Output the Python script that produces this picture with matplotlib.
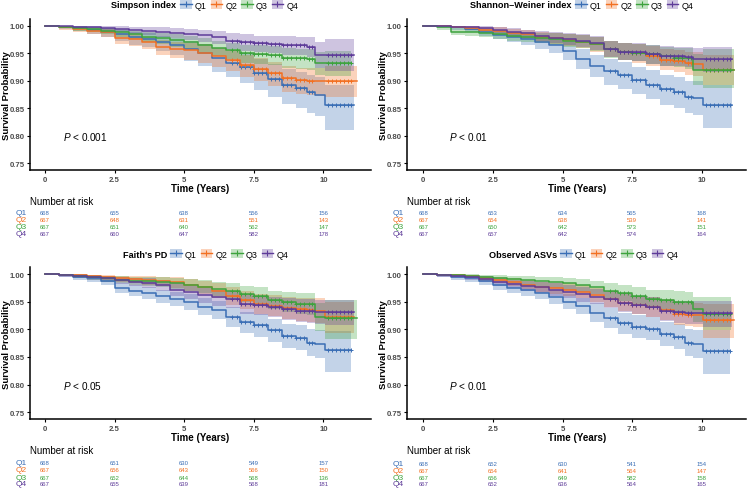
import matplotlib.pyplot as plt
from matplotlib.lines import Line2D
from matplotlib.patches import Patch
from matplotlib import transforms
import numpy as np

plt.rcParams['font.family'] = ['Liberation Sans', 'DejaVu Sans']
plt.rcParams['mathtext.fontset'] = 'custom'
plt.rcParams['mathtext.it'] = 'Liberation Sans:italic'
plt.rcParams['mathtext.rm'] = 'Liberation Sans'

groups = ['Q1', 'Q2', 'Q3', 'Q4']
colors = ['#3A6EB5', '#F27022', '#3DA33D', '#5E3C99']

# time points where the survival estimate is read off (years)
times = [0, 0.5, 1.0, 1.5, 2.0, 2.5, 3.0, 3.5, 4.0, 4.5, 5.0, 5.5, 6.0, 6.5,
         7.0, 7.5, 8.0, 8.5, 9.0, 9.4, 9.7, 10.05]
censor_times = [6.7, 6.9, 7.05, 7.2, 7.35, 7.5, 7.65, 7.8, 7.95, 8.1, 8.25,
                8.4, 8.55, 8.7, 8.85, 9.0, 9.15, 9.3, 9.5, 9.6, 10.15, 10.3,
                10.45, 10.6, 10.75, 10.9, 11.0]
risk_times = [0, 2.5, 5, 7.5, 10]

# ---- Simpson index ----
simpson_q1 = [1.000, .998, .996, .993, .989, .984, .979, .976, .971, .965, .957, .950, .941, .933, .925, .914, .903, .892, .886, .880, .874, .855]
simpson_q1_lo = [1.000, .994, .990, .985, .979, .972, .965, .961, .954, .946, .936, .927, .916, .906, .896, .883, .870, .857, .850, .842, .835, .810]
simpson_q1_hi = [1.000, 1.000, .999, .998, .995, .992, .988, .986, .982, .978, .972, .967, .960, .954, .948, .939, .930, .921, .916, .911, .906, .893]
simpson_q2 = [1.000, .997, .994, .991, .988, .978, .975, .970, .962, .958, .955, .951, .944, .938, .928, .922, .914, .904, .901, .900, .899, .899]
simpson_q2_lo = [1.000, .993, .988, .984, .980, .967, .963, .957, .947, .942, .938, .933, .925, .918, .907, .900, .891, .880, .876, .874, .872, .870]
simpson_q2_hi = [1.000, 1.000, .998, .996, .994, .986, .984, .980, .974, .971, .968, .966, .960, .955, .946, .941, .934, .926, .923, .923, .923, .927]
simpson_q3 = [1.000, .998, .996, .994, .991, .988, .984, .980, .977, .974, .970, .965, .960, .955, .950, .949, .947, .942, .941, .940, .933, .933]
simpson_q3_lo = [1.000, .995, .991, .988, .984, .980, .975, .970, .966, .962, .957, .951, .945, .939, .933, .931, .929, .923, .921, .919, .910, .908]
simpson_q3_hi = [1.000, 1.000, .999, .998, .996, .994, .991, .988, .986, .984, .981, .977, .973, .969, .965, .964, .963, .959, .958, .958, .953, .954]
simpson_q4 = [1.000, .999, .998, .997, .995, .994, .992, .991, .989, .987, .985, .983, .980, .973, .970, .968, .967, .965, .964, .962, .947, .946]
simpson_q4_lo = [1.000, .997, .995, .993, .990, .988, .985, .983, .980, .977, .974, .971, .967, .958, .954, .952, .950, .947, .946, .943, .923, .918]
simpson_q4_hi = [1.000, 1.000, 1.000, 1.000, .999, .999, .998, .998, .997, .996, .994, .993, .991, .986, .984, .982, .982, .981, .980, .979, .970, .975]
simpson_end = [11.1, 11.2, 11.0, 11.1]
simpson_risk = [[668, 655, 638, 556, 156],
                [667, 648, 631, 551, 143],
                [667, 651, 640, 562, 147],
                [667, 660, 647, 582, 178]]

# ---- Shannon-Weiner index ----
shannon_q1 = [1.000, .999, .997, .994, .989, .983, .980, .976, .971, .965, .954, .940, .926, .918, .911, .901, .893, .884, .879, .870, .869, .855]
shannon_q1_lo = [1.000, .996, .993, .988, .982, .975, .970, .965, .958, .951, .938, .922, .906, .893, .885, .875, .866, .856, .850, .841, .838, .814]
shannon_q1_hi = [1.000, 1.000, 1.000, .998, .995, .991, .989, .986, .983, .978, .970, .958, .946, .939, .934, .925, .919, .911, .907, .899, .899, .893]
shannon_q2 = [1.000, .999, .998, .996, .993, .991, .987, .984, .980, .977, .974, .971, .966, .958, .953, .950, .945, .938, .935, .932, .931, .920]
shannon_q2_lo = [1.000, .997, .995, .992, .988, .985, .980, .976, .971, .967, .963, .959, .953, .943, .937, .933, .927, .919, .915, .911, .909, .893]
shannon_q2_hi = [1.000, 1.000, 1.000, .999, .998, .997, .994, .992, .989, .987, .985, .983, .979, .973, .969, .967, .963, .957, .955, .953, .953, .947]
shannon_q3 = [1.000, .997, .989, .988, .987, .984, .981, .980, .978, .976, .973, .971, .967, .957, .953, .951, .948, .945, .942, .941, .920, .920]
shannon_q3_lo = [1.000, .993, .983, .982, .980, .976, .972, .971, .968, .965, .961, .959, .954, .942, .937, .935, .931, .927, .924, .922, .893, .887]
shannon_q3_hi = [1.000, 1.000, .995, .994, .993, .991, .989, .988, .987, .986, .984, .983, .980, .972, .969, .967, .965, .962, .960, .959, .948, .957]
shannon_q4 = [1.000, .999, .998, .997, .995, .992, .989, .986, .982, .978, .975, .973, .969, .958, .953, .952, .948, .945, .944, .943, .940, .939]
shannon_q4_lo = [1.000, .997, .995, .993, .990, .986, .982, .978, .973, .968, .964, .961, .956, .943, .937, .936, .931, .927, .926, .924, .920, .916]
shannon_q4_hi = [1.000, 1.000, 1.000, 1.000, .999, .997, .995, .993, .991, .988, .986, .985, .982, .973, .969, .968, .965, .963, .962, .962, .960, .962]
shannon_end = [11.1, 11.15, 11.15, 11.1]
shannon_risk = [[668, 653, 634, 565, 168],
                [667, 654, 638, 539, 141],
                [667, 650, 642, 573, 151],
                [667, 657, 642, 574, 164]]

# ---- Faith's PD ----
faith_q1 = [1.000, .998, .995, .992, .988, .975, .970, .966, .960, .955, .949, .941, .935, .922, .913, .907, .898, .888, .885, .876, .874, .862]
faith_q1_lo = [1.000, .995, .990, .986, .981, .966, .960, .955, .948, .942, .935, .926, .918, .904, .894, .887, .877, .866, .862, .852, .849, .822]
faith_q1_hi = [1.000, 1.000, .999, .997, .994, .984, .980, .977, .972, .968, .963, .957, .952, .940, .932, .927, .919, .910, .908, .900, .899, .897]
faith_q2 = [1.000, .999, .998, .996, .994, .992, .991, .989, .987, .985, .981, .976, .970, .960, .953, .946, .943, .939, .936, .935, .934, .922]
faith_q2_lo = [1.000, .997, .995, .992, .989, .986, .984, .981, .978, .975, .970, .964, .956, .944, .936, .928, .924, .919, .915, .913, .911, .893]
faith_q2_hi = [1.000, 1.000, 1.000, .999, .998, .997, .997, .996, .995, .994, .991, .988, .984, .976, .970, .964, .962, .959, .957, .957, .957, .950]
faith_q3 = [1.000, .999, .997, .995, .992, .990, .988, .987, .985, .983, .980, .977, .973, .969, .964, .960, .953, .950, .946, .945, .922, .920]
faith_q3_lo = [1.000, .997, .993, .990, .986, .983, .980, .979, .976, .973, .969, .965, .960, .955, .949, .944, .936, .932, .927, .925, .897, .882]
faith_q3_hi = [1.000, 1.000, 1.000, .999, .997, .996, .995, .995, .994, .993, .991, .989, .986, .983, .979, .976, .970, .968, .965, .965, .947, .953]
faith_q4 = [1.000, .998, .997, .995, .992, .989, .986, .984, .980, .972, .967, .962, .958, .955, .945, .944, .941, .937, .934, .933, .932, .931]
faith_q4_lo = [1.000, .995, .993, .990, .986, .982, .978, .975, .970, .960, .954, .948, .943, .939, .928, .926, .922, .917, .914, .912, .910, .908]
faith_q4_hi = [1.000, 1.000, 1.000, .999, .997, .995, .993, .992, .989, .983, .979, .975, .972, .970, .962, .961, .959, .956, .954, .954, .953, .953]
faith_end = [11.0, 11.1, 11.2, 11.1]
faith_risk = [[668, 651, 630, 549, 157],
              [667, 656, 643, 566, 150],
              [667, 652, 644, 568, 136],
              [667, 655, 639, 568, 181]]

# ---- Observed ASVs ----
asv_q1 = [1.000, .998, .995, .992, .988, .980, .975, .972, .966, .958, .950, .942, .930, .920, .911, .905, .901, .891, .887, .876, .874, .861]
asv_q1_lo = [1.000, .995, .990, .986, .981, .971, .965, .961, .954, .945, .936, .927, .913, .902, .892, .885, .880, .869, .864, .852, .849, .820]
asv_q1_hi = [1.000, 1.000, .999, .997, .994, .988, .984, .982, .977, .971, .964, .957, .947, .938, .930, .925, .922, .913, .910, .900, .899, .898]
asv_q2 = [1.000, .999, .998, .996, .993, .989, .985, .981, .977, .974, .972, .968, .962, .954, .948, .944, .940, .935, .927, .926, .925, .916]
asv_q2_lo = [1.000, .997, .995, .992, .988, .983, .978, .973, .968, .964, .961, .956, .949, .940, .933, .928, .923, .917, .908, .906, .904, .885]
asv_q2_hi = [1.000, 1.000, 1.000, .999, .997, .995, .992, .989, .986, .984, .983, .980, .975, .969, .964, .961, .958, .954, .947, .947, .947, .945]
asv_q3 = [1.000, .999, .998, .997, .995, .993, .991, .989, .987, .985, .983, .980, .976, .970, .966, .961, .955, .953, .950, .949, .936, .928]
asv_q3_lo = [1.000, .997, .995, .993, .990, .987, .984, .981, .978, .975, .972, .968, .963, .956, .951, .945, .938, .935, .931, .929, .913, .898]
asv_q3_hi = [1.000, 1.000, 1.000, 1.000, .999, .998, .997, .996, .995, .994, .993, .991, .988, .984, .981, .977, .972, .971, .969, .968, .958, .958]
asv_q4 = [1.000, .998, .996, .994, .991, .986, .982, .979, .976, .972, .968, .963, .959, .954, .947, .944, .940, .934, .931, .930, .930, .929]
asv_q4_lo = [1.000, .995, .992, .989, .985, .979, .974, .970, .966, .961, .956, .950, .945, .939, .931, .927, .922, .915, .911, .910, .909, .905]
asv_q4_hi = [1.000, 1.000, .999, .998, .997, .993, .990, .988, .986, .983, .980, .976, .973, .969, .963, .961, .958, .953, .951, .951, .951, .952]
asv_end = [11.0, 11.15, 11.05, 11.1]
asv_risk = [[668, 652, 630, 541, 154],
            [667, 654, 641, 564, 147],
            [667, 656, 649, 582, 158],
            [667, 652, 636, 564, 165]]

W, H = 750, 489
fig = plt.figure(figsize=(W / 100, H / 100), dpi=100)

def px_rect(left, right, top, bottom):
    return [left / W, 1 - bottom / H, (right - left) / W, (bottom - top) / H]

panels = [
    dict(title='Simpson index', pval='$P$ < 0.001',
         s=[simpson_q1, simpson_q2, simpson_q3, simpson_q4],
         lo=[simpson_q1_lo, simpson_q2_lo, simpson_q3_lo, simpson_q4_lo],
         hi=[simpson_q1_hi, simpson_q2_hi, simpson_q3_hi, simpson_q4_hi],
         end=simpson_end, risk=simpson_risk,
         rect=(30, 371, 19.8, 171), xlim=(-0.54, 11.71), px=0.65,
         title_r=176, leg_l=180, leg_y=6, risk_head=202,
         risk_rows=[214, 221, 228, 234.7], qx=16),
    dict(title='Shannon\u2013Weiner index', pval='$P$ < 0.01',
         s=[shannon_q1, shannon_q2, shannon_q3, shannon_q4],
         lo=[shannon_q1_lo, shannon_q2_lo, shannon_q3_lo, shannon_q4_lo],
         hi=[shannon_q1_hi, shannon_q2_hi, shannon_q3_hi, shannon_q4_hi],
         end=shannon_end, risk=shannon_risk,
         rect=(407.3, 746, 19.8, 171), xlim=(-0.575, 11.59), px=0.92,
         title_r=572, leg_l=575, leg_y=6, risk_head=202,
         risk_rows=[214, 221, 228, 234.7], qx=393),
    dict(title="Faith's PD", pval='$P$ < 0.05',
         s=[faith_q1, faith_q2, faith_q3, faith_q4],
         lo=[faith_q1_lo, faith_q2_lo, faith_q3_lo, faith_q4_lo],
         hi=[faith_q1_hi, faith_q2_hi, faith_q3_hi, faith_q4_hi],
         end=faith_end, risk=faith_risk,
         rect=(30, 371, 268.1, 420.2), xlim=(-0.54, 11.71), px=0.65,
         title_r=167, leg_l=170, leg_y=255, risk_head=450.7,
         risk_rows=[463.5, 471, 478.2, 485], qx=16),
    dict(title='Observed ASVs', pval='$P$ < 0.01',
         s=[asv_q1, asv_q2, asv_q3, asv_q4],
         lo=[asv_q1_lo, asv_q2_lo, asv_q3_lo, asv_q4_lo],
         hi=[asv_q1_hi, asv_q2_hi, asv_q3_hi, asv_q4_hi],
         end=asv_end, risk=asv_risk,
         rect=(407.3, 746, 268.1, 420.2), xlim=(-0.575, 11.59), px=0.92,
         title_r=557, leg_l=560, leg_y=255, risk_head=450.7,
         risk_rows=[464.3, 471.3, 478.3, 485], qx=393),
]

for p in panels:
    ax = fig.add_axes(px_rect(*p['rect']))
    for i in range(4):
        t = times + [p['end'][i]]
        s = p['s'][i] + [p['s'][i][-1]]
        lo = p['lo'][i] + [p['lo'][i][-1]]
        hi = p['hi'][i] + [p['hi'][i][-1]]
        ax.fill_between(t, lo, hi, step='post', color=colors[i], alpha=0.3, lw=0)
        ax.plot(t, s, drawstyle='steps-post', color=colors[i], lw=1.1)
        # censoring marks
        ct = [c for c in censor_times if c <= p['end'][i]]
        idx = np.searchsorted(times, ct, side='right') - 1
        cs = [p['s'][i][k] for k in idx]
        ax.plot(ct, cs, ls='none', marker='+', ms=3.5, mew=0.7, color=colors[i])

    ax.set_xlim(*p['xlim'])
    ax.set_ylim(0.7375, 1.0125)
    ax.set_xticks([0, 2.5, 5, 7.5, 10])
    ax.set_xticklabels(['0', '2.5', '5', '7.5', '10'])
    ax.set_yticks([0.75, 0.80, 0.85, 0.90, 0.95, 1.00])
    ax.set_yticklabels(['0.75', '0.80', '0.85', '0.90', '0.95', '1.00'])
    for sp in ['top', 'right']:
        ax.spines[sp].set_visible(False)
    for sp in ['left', 'bottom']:
        ax.spines[sp].set_linewidth(1.1)
    ax.tick_params(length=2.5, width=0.8, pad=1.5, labelsize=5.6, labelcolor='#4D4D4D')
    for lab in ax.get_xticklabels() + ax.get_yticklabels():
        lab.set_fontweight('bold')
    ax.set_xlabel('Time (Years)', fontsize=7, fontweight='bold', labelpad=0)
    ax.set_ylabel('Survival Probability', fontsize=6.8, fontweight='bold')
    ax.yaxis.set_label_coords(-0.057, 0.5)
    ax.text(p['px'], 0.80, p['pval'], fontsize=7.2, va='center', ha='left')

    # legend with inline title
    fig.text(p['title_r'] / W, 1 - p['leg_y'] / H, p['title'], fontsize=6.6,
             fontweight='bold', ha='right', va='center')
    handles = [(Patch(facecolor=colors[i], alpha=0.3, lw=0),
                Line2D([], [], color=colors[i], lw=1.0, marker='+', ms=4, mew=0.8))
               for i in range(4)]
    fig.legend(handles, groups, loc='center left',
               bbox_to_anchor=(p['leg_l'] / W, 1 - p['leg_y'] / H),
               ncol=4, frameon=False, fontsize=6.4, handlelength=1.3,
               handleheight=1.1, handletextpad=0.35, columnspacing=0.45,
               borderpad=0, borderaxespad=0)

    # risk table
    left_px = p['rect'][0]
    fig.text(left_px / W, 1 - p['risk_head'] / H, 'Number at risk', fontsize=7,
             ha='left', va='center')
    trans = transforms.blended_transform_factory(ax.transData, fig.transFigure)
    for i in range(4):
        yy = 1 - p['risk_rows'][i] / H
        fig.text(p['qx'] / W, yy, groups[i], fontsize=6, color=colors[i],
                 ha='left', va='center')
        for j, rt in enumerate(risk_times):
            ax.text(rt, yy, str(p['risk'][i][j]), transform=trans, fontsize=4.3,
                    color=colors[i], ha='center', va='center', clip_on=False)

fig.savefig('out.png', dpi=100)
